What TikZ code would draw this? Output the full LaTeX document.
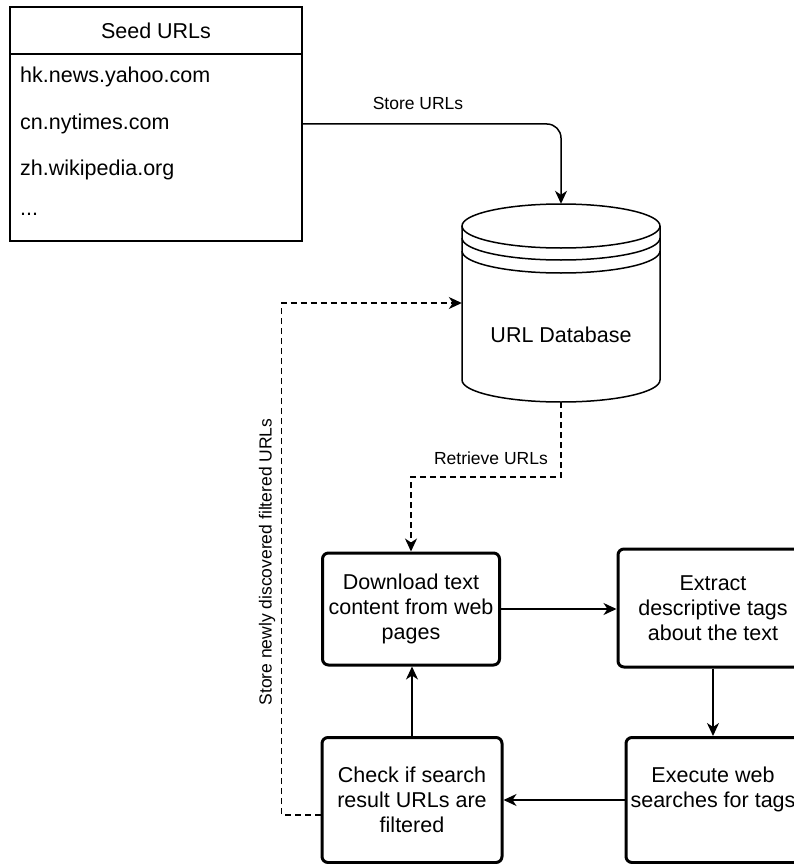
\documentclass[tikz,border=0pt]{standalone}
\usepackage{fontspec}
\setmainfont{Liberation Sans}
\usepackage{tikz}
\usetikzlibrary{shapes,arrows.meta,positioning,calc}

\begin{document}
\begin{tikzpicture}[x=1pt, y=-1pt,
    txt/.style={inner sep=0pt, font=\fontsize{21.5}{25}\selectfont},
    lbl/.style={inner sep=0pt, font=\fontsize{17.5}{20}\selectfont},
    stepbox/.style={draw, line width=3pt, rounded corners=6pt, align=center, inner sep=0pt, font=\fontsize{21.5}{25}\selectfont},
    link/.style={line width=1.5pt, -{Stealth[length=13pt, width=12pt, inset=4pt]}},
    dashline/.style={dash pattern=on 6pt off 4pt}]

    \useasboundingbox (0,0) rectangle (794,864);

    % Seed URL list (top left)
    \node[draw, line width=1.5pt, minimum width=292pt, minimum height=234pt] (seed) at (156,124) {};
    \draw[line width=1.5pt] (10,54) -- (302,54);
    \node[txt] (seedtitle) at (156,31) {Seed URLs};
    \node[txt, anchor=west] (hk) at (20,77) {hk.news.yahoo.com};
    \node[txt, anchor=west] (cn) at (20,124) {cn.nytimes.com};
    \node[txt, anchor=west] (zh) at (20,170) {zh.wikipedia.org};
    \node[txt, anchor=west] (more) at (20,214) {...};

    % URL database (cylinder)
    \node[minimum width=198pt, minimum height=198pt, inner sep=0pt] (db) at (561,303) {};
    \draw[line width=1.5pt, fill=white] (462,226) -- (462,380)
        arc[start angle=180, end angle=360, x radius=99pt, y radius=22pt] -- (660,226);
    \draw[line width=1.5pt] (561,226) ellipse [x radius=99pt, y radius=22pt];
    \draw[line width=1.5pt] (462,238) arc[start angle=180, end angle=360, x radius=99pt, y radius=22pt];
    \draw[line width=1.5pt] (462,251) arc[start angle=180, end angle=360, x radius=99pt, y radius=22pt];
    \node[txt] (dbtext) at (561,335) {URL Database};

    % Crawl loop
    \node[stepbox, minimum width=177pt, minimum height=112pt] (dl) at (411,609) {Download text\\content from web\\pages};
    \node[stepbox, minimum width=190pt, minimum height=118pt] (tags) at (713,608) {Extract\\descriptive tags\\about the text};
    \node[stepbox, minimum width=174pt, minimum height=125pt] (search) at (713,800) {Execute web\\searches for tags\\\mbox{}};
    \node[stepbox, minimum width=180pt, minimum height=125pt] (check) at (412,800) {Check if search\\result URLs are\\filtered};

    % Connectors
    \draw[link, rounded corners=14pt] (seed.east) -| (db.north);
    \node[lbl] (storelbl) at (418,103) {Store URLs};

    \draw[link, dashline] (db.south) -- ++(0,75) -| (dl.north);
    \node[lbl, anchor=east] (retrievelbl) at (548,458) {Retrieve URLs};

    \draw[link] (dl.east) -- (dl.east -| tags.west);
    \draw[link] (tags.south) -- (search.north);
    \draw[link] (search.west) -- (check.east);
    \draw[link] (check.north) -- (check.north |- dl.south);

    \draw[link, dashline] ([yshift=-15pt]check.west) -- ++(-39,0) |- (db.west);
    \node[lbl, rotate=90] (backlbl) at (267,562) {Store newly discovered filtered URLs};
\end{tikzpicture}
\end{document}
